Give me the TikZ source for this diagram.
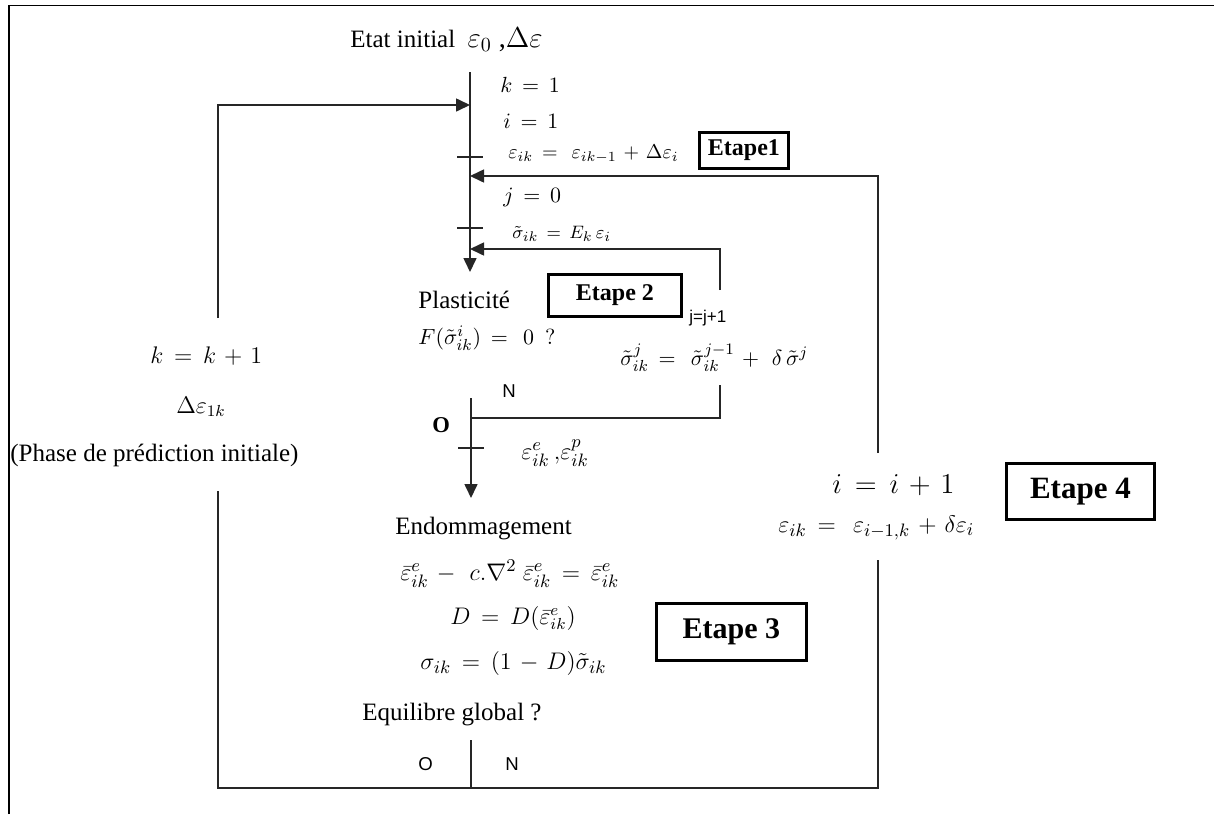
\documentclass[tikz,border=0pt]{standalone}
\usepackage{fontspec}
\setmainfont{Liberation Serif}
\setsansfont{Liberation Sans}
\usetikzlibrary{arrows.meta}
\begin{document}
\begin{tikzpicture}[x=0.5pt,y=-0.5pt,
  line/.style={line width=0.8pt, draw=black!85},
  arr/.style={line, -{Triangle[length=7pt,width=6.5pt]}},
  txt/.style={inner sep=0pt, anchor=base west},
  big/.style={font=\fontsize{12.5}{15}\selectfont},
  mmath/.style={font=\fontsize{10.5}{12}\selectfont},
  etape/.style={draw, line width=1.4pt, inner sep=0pt, anchor=north west, font=\bfseries}
]
\thickmuskip=8mu plus 2mu
\medmuskip=6mu plus 2mu
\useasboundingbox (0,0) rectangle (1214,814);
% frame
\draw[line width=0.9pt] (9,814) -- (9,5.5) -- (1214,5.5);

% texts
\node[txt, big] (etat) at (350,47) {Etat initial \ {\fontsize{14}{15}\selectfont\(\varepsilon_0\) ,\(\Delta\varepsilon\)}};
\node[txt, mmath] (k1) at (500,92) {\(k = 1\)};
\node[txt, mmath] (i1) at (503,128) {\(i = 1\)};
\node[txt, font=\fontsize{10.2}{11}\selectfont] (eps) at (508,158) {\(\varepsilon_{ik} =\ \varepsilon_{ik-1} + \Delta\varepsilon_i\)};
\node[etape, minimum width=44.5pt, minimum height=18pt, font=\bfseries\fontsize{12}{13}\selectfont] (e1) at (698,131) {Etape1};
\node[txt, mmath] (j0) at (503,202) {\(j = 0\)};
\node[txt, font=\fontsize{9.5}{11}\selectfont] (sig) at (512,238) {\(\tilde\sigma_{ik} = E_k\,\varepsilon_i\)};

\node[txt, big] (plast) at (418,308) {Plasticité};
\node[etape, minimum width=66.5pt, minimum height=21pt, font=\bfseries\fontsize{12}{14}\selectfont] (e2) at (547,273) {Etape 2};
\node[txt, font=\fontsize{11}{13}\selectfont] (F) at (418,344) {\(F(\tilde\sigma^i_{ik}) =\ 0\ \ ?\)};
\node[txt, font=\sffamily\fontsize{8.5}{10}\selectfont] (jj) at (689,322) {j=j+1};
\node[txt, font=\fontsize{11}{13}\selectfont] (sigj) at (620,365) {\(\tilde\sigma^j_{ik} =\ \tilde\sigma^{j-1}_{ik} +\ \delta\,\tilde\sigma^j\)};
\node[txt, font=\sffamily\fontsize{9.3}{11}\selectfont] (N1) at (502,397) {N};
\node[txt, font=\bfseries\fontsize{11.3}{13}\selectfont] (O1) at (432,432) {O};
\node[txt, font=\fontsize{13}{14}\selectfont] (ep) at (521,459) {\(\varepsilon^e_{ik}\,{,}\varepsilon^p_{ik}\)};

\node[txt, big] (endo) at (395,534) {Endommagement};
\node[txt, font=\fontsize{12.3}{14}\selectfont] (eq1) at (400,580) {\(\bar\varepsilon^e_{ik} -\ c.\nabla^2\ \bar\varepsilon^e_{ik} = \bar\varepsilon^e_{ik}\)};
\node[txt, font=\fontsize{12}{14}\selectfont] (eqD) at (450,624) {\(D = D(\bar\varepsilon^e_{ik})\)};
\node[txt, font=\fontsize{12.2}{14}\selectfont] (eqs) at (420,669) {\(\sigma_{ik} = (1-D)\tilde\sigma_{ik}\)};
\node[etape, minimum width=75pt, minimum height=28.5pt, font=\bfseries\fontsize{15}{17}\selectfont] (e3) at (655,602) {Etape 3};
\node[txt, big] (equi) at (362,720) {Equilibre global ?};
\node[txt, font=\sffamily\fontsize{9.3}{11}\selectfont] (O2) at (418,770) {O};
\node[txt, font=\sffamily\fontsize{9.3}{11}\selectfont] (N2) at (505,770) {N};

\node[txt, font=\fontsize{12.8}{15}\selectfont] (kk) at (150,363) {\(k = k+1\)};
\node[txt, font=\fontsize{12}{14}\selectfont] (de) at (176,413) {\(\Delta\varepsilon_{1k}\)};
\node[txt, big] (phase) at (10,461) {(Phase de prédiction initiale)};

\node[txt, font=\fontsize{13.5}{15}\selectfont] (ii) at (832,493) {\(i = i+1\)};
\node[txt, font=\fontsize{13}{15}\selectfont] (epsi) at (778,532) {\(\varepsilon_{ik} =\ \varepsilon_{i-1,k} + \delta\varepsilon_i\)};
\node[etape, minimum width=74pt, minimum height=28pt, font=\bfseries\fontsize{15.5}{17}\selectfont] (e4) at (1005,462) {Etape 4};

% coordinates
\coordinate (top) at (470,72);
\coordinate (arr1) at (470,272);
\coordinate (kin) at (470,105);
\coordinate (Ltop) at (218,105);
\coordinate (Lbreak1) at (218,318);
\coordinate (Lbreak2) at (218,491);
\coordinate (BL) at (218,788);
\coordinate (BM) at (471,788);
\coordinate (BMtop) at (471,740);
\coordinate (BR) at (878,788);
\coordinate (Rbreak2) at (878,560);
\coordinate (Rbreak1) at (878,453);
\coordinate (Rtop) at (878,176);
\coordinate (iin) at (470,176);
\coordinate (Jtop) at (720,249);
\coordinate (jin) at (470,249);
\coordinate (Jbreak1) at (720,290);
\coordinate (Jbreak2) at (720,385);
\coordinate (Jbot) at (720,418);
\coordinate (Mjoin) at (471,418);
\coordinate (M2top) at (471,398);
\coordinate (arr2) at (471,498);

% connectors
\draw[arr] (top) -- (arr1);
\draw[line] (457,157) -- (483,157);
\draw[line] (457,228) -- (483,228);
\draw[arr] (Lbreak1) -- (Ltop) -- (kin);
\draw[arr] (Rbreak1) -- (Rtop) -- (iin);
\draw[arr] (Jbreak1) -- (Jtop) -- (jin);
\draw[line] (Jbreak2) -- (Jbot) -- (Mjoin);
\draw[arr] (M2top) -- (arr2);
\draw[line] (458,448) -- (484,448);
\draw[line] (Lbreak2) -- (BL) -- (BR) -- (Rbreak2);
\draw[line] (BMtop) -- (BM);
\end{tikzpicture}
\end{document}
